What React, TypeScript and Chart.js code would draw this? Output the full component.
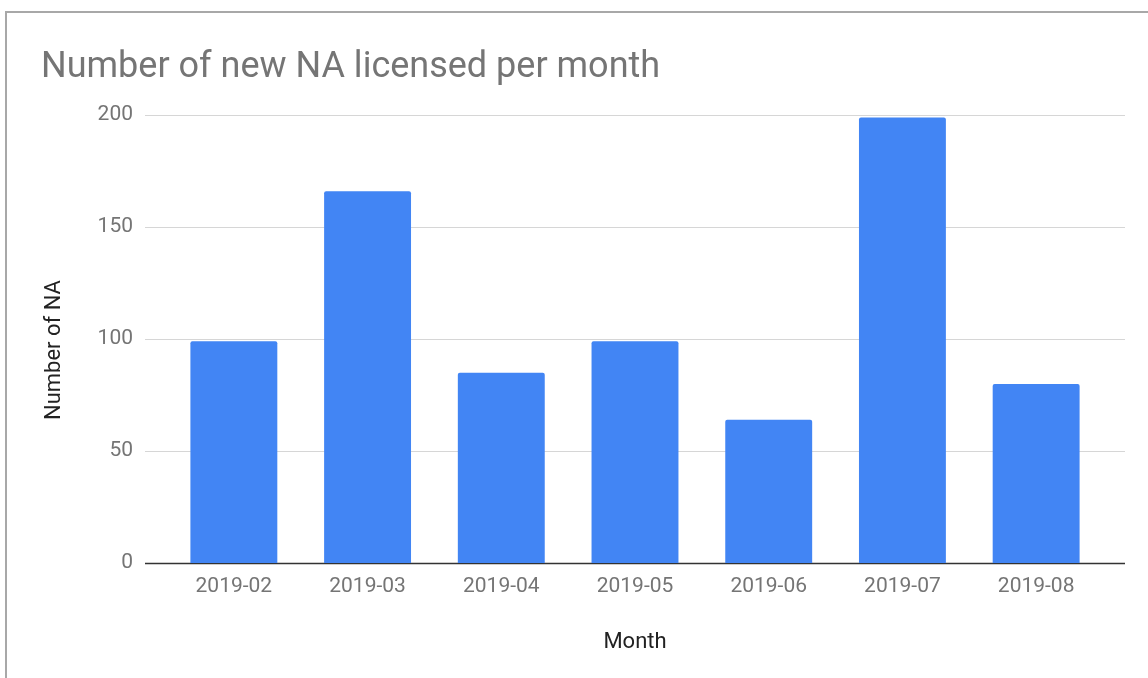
import React, { useEffect, useRef } from "react";
import { Chart, registerables } from "chart.js";

Chart.register(...registerables);

const months = ["2019-02", "2019-03", "2019-04", "2019-05", "2019-06", "2019-07", "2019-08"];
const newNA = [99, 166, 85, 99, 64, 199, 80];
const yTicks = [0, 50, 100, 150, 200];
const yTitle = "Number of NA";

const FONT = "Roboto, 'Noto Sans', Arial, sans-serif";

const gridPlugin = {
  id: "extendedGrid",
  beforeDatasetsDraw(chart: any) {
    const { ctx, chartArea, scales } = chart;
    const y = scales.y;
    ctx.save();
    yTicks.forEach((v) => {
      const py = Math.round(y.getPixelForValue(v)) + 0.5;
      ctx.beginPath();
      ctx.strokeStyle = v === 0 ? "#333333" : "#d6d6d6";
      ctx.lineWidth = v === 0 ? 1.5 : 1;
      ctx.moveTo(chartArea.left - 22, py);
      ctx.lineTo(chartArea.right + 22, py);
      ctx.stroke();
    });
    ctx.restore();
  },
  afterDraw(chart: any) {
    const { ctx, chartArea } = chart;
    ctx.save();
    ctx.translate(54, (chartArea.top + chartArea.bottom) / 2 + 11);
    ctx.rotate(-Math.PI / 2);
    ctx.fillStyle = "#222222";
    ctx.font = `22px ${FONT}`;
    ctx.textAlign = "center";
    ctx.textBaseline = "middle";
    ctx.fillText(yTitle, 0, 0);
    ctx.restore();
  },
};

export default function App() {
  const ref = useRef<HTMLCanvasElement>(null);
  useEffect(() => {
    if (!ref.current) return;
    const chart = new Chart(ref.current, {
      type: "bar",
      data: {
        labels: months,
        datasets: [
          {
            label: yTitle,
            data: newNA,
            backgroundColor: "#4285f4",
            borderRadius: 2,
            borderSkipped: "bottom",
            barPercentage: 0.65,
            categoryPercentage: 1,
          },
        ],
      },
      plugins: [gridPlugin],
      options: {
        responsive: false,
        animation: false,
        devicePixelRatio: 1,
        layout: { padding: { left: 41, right: 45, top: 0, bottom: 22 } },
        plugins: {
          legend: { display: false },
          tooltip: { enabled: false },
          title: {
            display: true,
            text: "Number of new NA licensed per month",
            align: "start",
            color: "#757575",
            font: { family: FONT, size: 36, weight: "normal" },
            padding: { top: 46, bottom: 26 },
          },
        },
        scales: {
          x: {
            grid: { display: false, drawTicks: false },
            border: { display: false },
            afterFit: (s: any) => {
              s.height = 93;
            },
            ticks: {
              color: "#757575",
              font: { family: FONT, size: 21 },
              padding: 11,
              maxRotation: 0,
            },
            title: {
              display: true,
              text: "Month",
              color: "#222222",
              font: { family: FONT, size: 22 },
              padding: { top: 20, bottom: 0 },
            },
          },
          y: {
            min: 0,
            max: 200,
            grid: { display: false, drawTicks: false },
            border: { display: false },
            afterFit: (s: any) => {
              s.width = 126;
            },
            ticks: {
              stepSize: 50,
              color: "#757575",
              font: { family: FONT, size: 21 },
              padding: 34,
            },
          },
        },
      },
    });
    return () => chart.destroy();
  }, []);
  return (
    <div style={{ position: "fixed", left: 0, top: 0, width: 1148, height: 678, background: "#fff" }}>
      <div
        style={{
          position: "absolute",
          left: 5,
          top: 11,
          right: 0,
          bottom: 0,
          borderLeft: "2px solid #a8a8a8",
          borderTop: "2px solid #a8a8a8",
        }}
      />
      <canvas ref={ref} width={1148} height={678} style={{ position: "absolute", left: 0, top: 0 }} />
    </div>
  );
}
